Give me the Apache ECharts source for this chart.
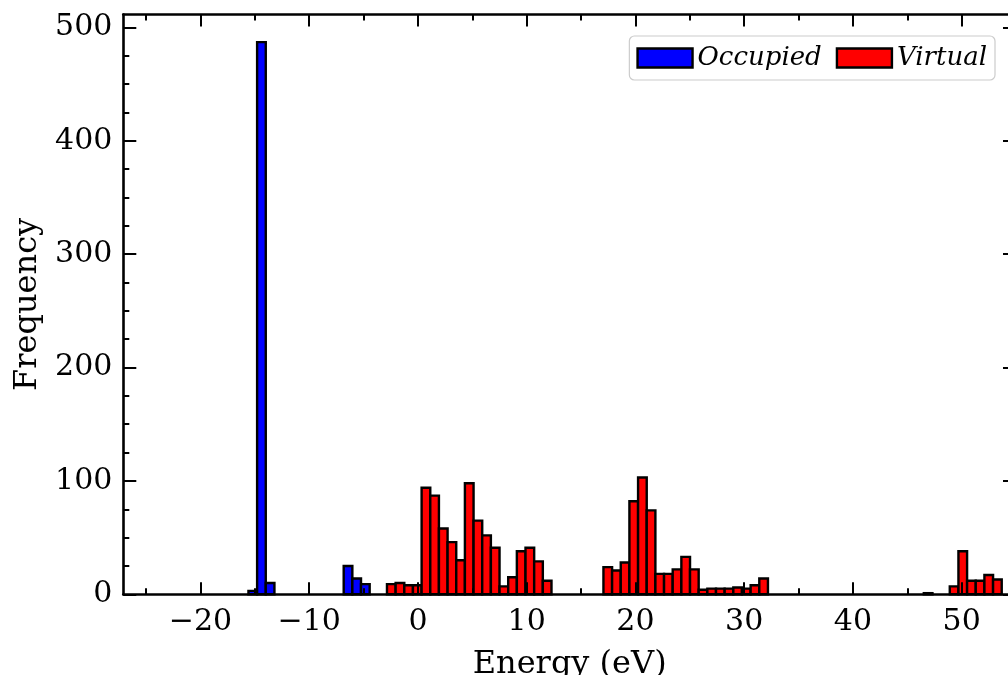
<!DOCTYPE html>
<html>
<head>
<meta charset="utf-8">
<script src="https://cdn.jsdelivr.net/npm/echarts@6/dist/echarts.min.js"></script>
<style>
  html, body { margin: 0; padding: 0; background: #ffffff; }
  #main { width: 1008px; height: 675px; }
</style>
</head>
<body>
<div id="main"></div>
<script>
// histogram bins (eV)
var binWidth = 0.7963
var occupiedStart = -15.59
var virtualStart = -2.85

var occupiedCounts = [3, 487, 10, 0, 0, 0, 0, 0, 0, 0, 0, 25, 14, 9]
var virtualCounts = [
  9, 10, 8, 8, 94, 87, 58, 46, 30, 98, 65, 52, 41, 7, 15, 38, 41, 29, 12,
  0, 0, 0, 0, 0, 0,
  24, 21, 28, 82, 103, 74, 18, 18, 22, 33, 22, 4, 5, 5, 5, 6, 5, 8, 14,
  0, 0, 0, 0, 0, 0, 0, 0, 0, 0, 0, 0, 0, 0, 0, 0, 0, 0,
  1, 0, 0,
  7, 38, 12, 12, 17, 13
]

// tick positions
var xMajor = [-20, -10, 0, 10, 20, 30, 40, 50]
var xMinor = [-25, -15, -5, 5, 15, 25, 35, 45]
var yMajor = [0, 100, 200, 300, 400, 500]
var yMinor = [25, 50, 75, 125, 150, 175, 225, 250, 275, 325, 350, 375, 425, 450, 475]

var FONT = 'DejaVu Serif'

function toBins(start, counts) {
  var out = []
  for (var i = 0; i < counts.length; i++) {
    if (counts[i] > 0) {
      out.push([start + i * binWidth, start + (i + 1) * binWidth, counts[i]])
    }
  }
  return out
}

function renderBar(params, api) {
  var p0 = api.coord([api.value(0), api.value(2)])
  var p1 = api.coord([api.value(1), 0])
  return {
    type: 'rect',
    shape: { x: p0[0], y: p0[1], width: p1[0] - p0[0], height: p1[1] - p0[1] },
    style: api.style({ stroke: '#000000', lineWidth: 2.4 })
  }
}

function xAxisOf(position, ticks, len, main) {
  return {
    type: 'value',
    position: position,
    min: -27.1,
    max: 55,
    z: 10,
    splitLine: { show: false },
    axisLine: { show: main, onZero: false, lineStyle: { color: '#000', width: 2.6 } },
    axisTick: { show: true, inside: true, length: len, customValues: ticks, lineStyle: { color: '#000', width: 2 } },
    axisLabel: main && position === 'bottom' ? {
      show: true,
      customValues: ticks,
      margin: 13,
      fontFamily: FONT,
      fontSize: 30,
      color: '#000',
      formatter: function (v) { return v < 0 ? '\u2212' + Math.abs(v) : String(v) }
    } : { show: false }
  }
}

function yAxisOf(position, ticks, len, main) {
  return {
    type: 'value',
    position: position,
    min: 0,
    max: 511.35,
    z: 10,
    splitLine: { show: false },
    axisLine: { show: main, onZero: false, lineStyle: { color: '#000', width: 2.6 } },
    axisTick: { show: true, inside: true, length: len, customValues: ticks, lineStyle: { color: '#000', width: 2 } },
    axisLabel: main && position === 'left' ? {
      show: true,
      customValues: ticks,
      margin: 11,
      fontFamily: FONT,
      fontSize: 30,
      color: '#000'
    } : { show: false }
  }
}

var chart = echarts.init(document.getElementById('main'))

var xBottom = xAxisOf('bottom', xMajor, 12, true)
xBottom.name = 'Energy (eV)'
xBottom.nameLocation = 'middle'
xBottom.nameGap = 54
xBottom.nameTextStyle = { fontFamily: FONT, fontSize: 32, color: '#000' }

var yLeft = yAxisOf('left', yMajor, 13, true)
yLeft.name = 'Frequency'
yLeft.nameLocation = 'middle'
yLeft.nameGap = 80
yLeft.nameTextStyle = { fontFamily: FONT, fontSize: 32, color: '#000' }

var option = {
  animation: false,
  backgroundColor: '#ffffff',
  grid: {
    left: 123.3, top: 14.5, width: 892.7, height: 579.8,
    containLabel: false,
    outerBoundsMode: 'none'
  },
  legend: {
    right: 13,
    top: 36,
    orient: 'horizontal',
    itemWidth: 55,
    itemHeight: 19,
    itemGap: 14,
    padding: [8, 8, 8, 7],
    backgroundColor: '#ffffff',
    borderColor: '#cccccc',
    borderWidth: 1.2,
    borderRadius: 5,
    textStyle: { fontFamily: FONT, fontStyle: 'italic', fontSize: 26, color: '#000', lineHeight: 28 },
    data: [
      { name: 'Occupied', icon: 'rect', itemStyle: { color: '#0000ff', borderColor: '#000', borderWidth: 2.4 } },
      { name: 'Virtual', icon: 'rect', itemStyle: { color: '#ff0000', borderColor: '#000', borderWidth: 2.4 } }
    ]
  },
  xAxis: [
    xBottom,
    xAxisOf('bottom', xMinor, 6, false),
    xAxisOf('top', xMajor, 12, true),
    xAxisOf('top', xMinor, 6, false)
  ],
  yAxis: [
    yLeft,
    yAxisOf('left', yMinor, 6, false),
    yAxisOf('right', yMajor, 13, true),
    yAxisOf('right', yMinor, 6, false)
  ],
  series: [
    {
      name: 'Occupied',
      type: 'custom',
      xAxisIndex: 0,
      yAxisIndex: 0,
      renderItem: renderBar,
      itemStyle: { color: '#0000ff', borderColor: '#000' },
      encode: { x: [0, 1], y: 2 },
      data: toBins(occupiedStart, occupiedCounts)
    },
    {
      name: 'Virtual',
      type: 'custom',
      xAxisIndex: 0,
      yAxisIndex: 0,
      renderItem: renderBar,
      itemStyle: { color: '#ff0000', borderColor: '#000' },
      encode: { x: [0, 1], y: 2 },
      data: toBins(virtualStart, virtualCounts)
    }
  ]
}

chart.setOption(option)
</script>
</body>
</html>
